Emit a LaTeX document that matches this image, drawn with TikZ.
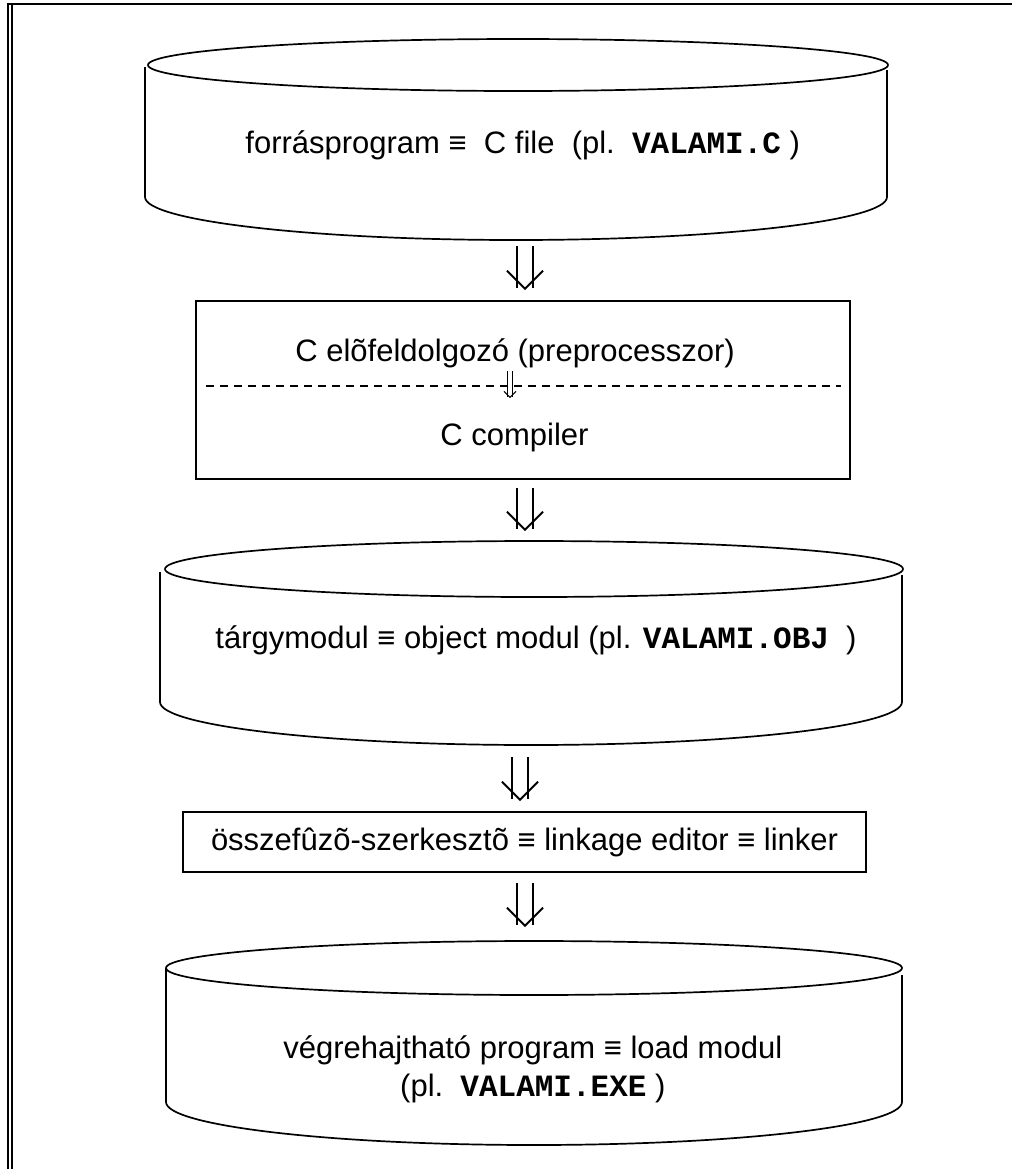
\documentclass[tikz,border=0pt]{standalone}
\usepackage{fontspec}
\setmainfont{Liberation Sans}
\setmonofont{Liberation Mono}
\usetikzlibrary{arrows.meta,positioning}
\newcommand{\fname}[1]{{\ttfamily\bfseries #1}}
\tikzset{
  txt/.style={inner sep=0pt,align=center,font=\fontsize{15.5}{19}\selectfont},
  procbox/.style={draw,line width=1pt,inner sep=0pt,align=center,
    font=\fontsize{15.5}{19}\selectfont},
  disk/.style={line width=0.85pt},
  flow/.style={double,double distance=7pt,line width=0.9pt,
    -{Straight Barb[length=9pt,width=18pt,line width=0.9pt]}},
  subflow/.style={double,double distance=2.2pt,line width=0.5pt,
    -{Straight Barb[length=3pt,width=6pt,line width=0.5pt]}}
}
\begin{document}
\begin{tikzpicture}[x=0.5pt,y=-0.5pt]
  \useasboundingbox (0,0) rectangle (1012,1169);
  % frame
  \draw[line width=1.1pt] (8,4) -- (1012,4);
  \draw[line width=1pt] (8,3) -- (8,1169);
  \draw[line width=1pt] (11.5,4) -- (11.5,1169);
  % source file
  \draw[disk] (518,65) ellipse [x radius=185pt,y radius=13pt];
  \draw[disk] (145,67) -- (145,197) arc[start angle=180,end angle=360,x radius=185.5pt,y radius=21.5pt]
    -- (887,70);
  \node[txt,anchor=west] (src) at (245,145) {forrásprogram ≡\ \ C file\ \ (pl.\ \ \fname{VALAMI.C} )};
  \coordinate (srcbot) at (525,240);
  % compiler
  \node[procbox,minimum width=327pt,minimum height=89pt] (comp) at (523,390) {};
  \node[txt,anchor=west] (pre) at (295,353) {C elõfeldolgozó (preprocesszor)};
  \node[txt,anchor=west] (cc) at (440,437) {C compiler};
  \draw[line width=0.75pt,dash pattern=on 3.75pt off 3.25pt] (comp.west) ++(11,-4) coordinate (dl) -- ([xshift=-5pt]dl -| comp.east);
  \coordinate (suba) at (510,371);
  \coordinate (subb) at (510,398);
  % object module
  \draw[disk] (534,569) ellipse [x radius=184.5pt,y radius=14pt];
  \draw[disk] (160,572) -- (160,702) arc[start angle=180,end angle=360,x radius=185.5pt,y radius=21.5pt]
    -- (902,575);
  \node[txt,anchor=west] (obj) at (215,640) {tárgymodul ≡ object modul (pl. \fname{VALAMI.OBJ}\ \ )};
  \coordinate (objtop) at (525,541);
  \coordinate (objbot) at (520,745);
  % linker
  \node[procbox,anchor=west,inner xsep=14pt,minimum height=30pt] (link) at (182,842)
    {összefûzõ-szerkesztõ ≡ linkage editor ≡ linker};
  % executable
  \draw[disk] (534,968) ellipse [x radius=184pt,y radius=13.5pt];
  \draw[disk] (166,968) -- (166,1102) arc[start angle=180,end angle=360,x radius=184pt,y radius=21.5pt]
    -- (902,975);
  \node[txt,anchor=west] (exe) at (283,1069) {végrehajtható program ≡ load modul\\(pl.\ \ \fname{VALAMI.EXE} )};
  \coordinate (exetop) at (525,941);
  % arrows
  \draw[flow,shorten <=3pt,shorten >=5pt] (srcbot) -- (srcbot |- comp.north);
  \draw[subflow] (suba) -- (subb);
  \draw[flow,shorten <=4pt,shorten >=5pt] (comp.south -| objtop) -- (objtop);
  \draw[flow,shorten <=6pt,shorten >=5pt] (objbot) -- (objbot |- link.north);
  \draw[flow,shorten <=5pt,shorten >=7pt] (link.south -| exetop) -- (exetop);
\end{tikzpicture}
\end{document}
